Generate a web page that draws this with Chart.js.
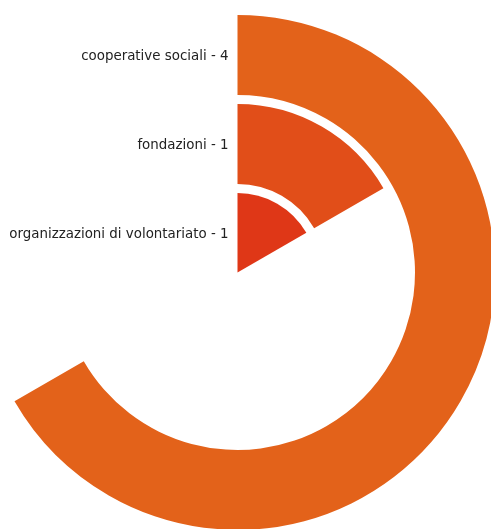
<!DOCTYPE html>
<html>
<head>
<meta charset="utf-8">
<script src="https://cdn.jsdelivr.net/npm/chart.js@4/dist/chart.umd.min.js"></script>
<style>
  html, body { margin: 0; padding: 0; background: #ffffff; overflow: hidden; width: 491px; height: 529px; }
  #wrap { position: absolute; left: -20px; top: 15px; width: 515px; height: 515px; }
</style>
</head>
<body>
<div id="wrap"><canvas id="chart"></canvas></div>
<script>
// Categories from the outermost ring to the innermost
const categories = ['cooperative sociali', 'fondazioni', 'organizzazioni di volontariato'];
const values = [4, 1, 1];
const colors = ['#e3621a', '#e14e19', '#df3717'];
const angleMax = 6; // a full turn

// Radial thickness of each bar ring and the white gap between rings
const ringWeight = [80, 80, 79.5];
const gapWeight = 9;

const datasets = [];
categories.forEach((cat, i) => {
  datasets.push({
    label: cat,
    data: [values[i], angleMax - values[i]],
    backgroundColor: [colors[i], 'rgba(0,0,0,0)'],
    borderWidth: 0,
    weight: ringWeight[i],
    isBar: true
  });
  if (i < categories.length - 1) {
    datasets.push({
      label: '',
      data: [angleMax],
      backgroundColor: ['rgba(0,0,0,0)'],
      borderWidth: 0,
      weight: gapWeight,
      isBar: false
    });
  }
});

// Category labels drawn left of the 12 o'clock axis, centred on each ring
const ringLabels = {
  id: 'ringLabels',
  afterDatasetsDraw(chart) {
    const ctx = chart.ctx;
    ctx.save();
    ctx.font = '13.4px "DejaVu Sans"';
    ctx.fillStyle = '#222222';
    ctx.textAlign = 'right';
    ctx.textBaseline = 'middle';
    chart.data.datasets.forEach((ds, di) => {
      if (!ds.isBar) return;
      const arc = chart.getDatasetMeta(di).data[0];
      const r = (arc.innerRadius + arc.outerRadius) / 2;
      ctx.fillText(ds.label + ' - ' + ds.data[0], arc.x - 9, arc.y - r + 1.5);
    });
    ctx.restore();
  }
};

new Chart(document.getElementById('chart'), {
  type: 'doughnut',
  data: { labels: ['value', 'rest'], datasets },
  options: {
    responsive: true,
    maintainAspectRatio: false,
    animation: false,
    cutout: 0,
    rotation: 0,
    circumference: 360,
    layout: { padding: 0 },
    events: [],
    plugins: {
      legend: { display: false },
      tooltip: { enabled: false }
    }
  },
  plugins: [ringLabels]
});
</script>
</body>
</html>
